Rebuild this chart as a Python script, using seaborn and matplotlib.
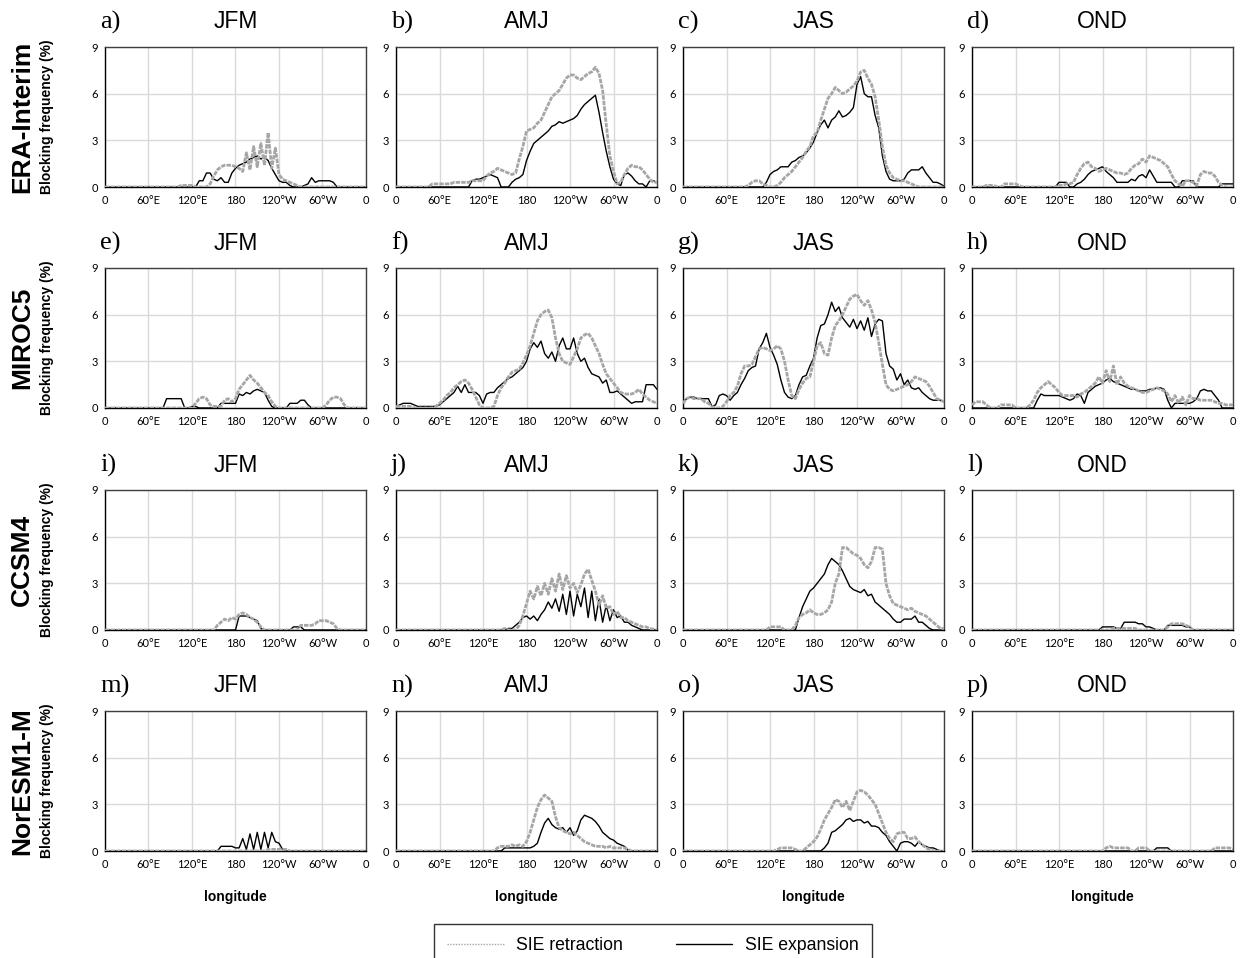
import numpy as np
import pandas as pd
import matplotlib
matplotlib.use("Agg")
import matplotlib.pyplot as plt
import seaborn as sns
from matplotlib.lines import Line2D

# ---------------- data (blocking frequency, %, every 5 deg longitude) ----------------
LON = list(range(0, 361, 5))
MODELS = ["ERA-Interim", "MIROC5", "CCSM4", "NorESM1-M"]
SEASONS = ["JFM", "AMJ", "JAS", "OND"]
LETTERS = list("abcdefghijklmnop")
XTICKS = [0, 60, 120, 180, 240, 300, 360]
XTICK_LABELS = ["0", "60°E", "120°E", "180", "120°W", "60°W", "0"]
YTICKS = [0, 3, 6, 9]

ERA_JFM_RET = [
    0, 0, 0, 0, 0, 0, 0, 0, 0, 0, 0, 0,
    0, 0, 0, 0, 0, 0, 0, 0, 0, 0.1, 0.1, 0.1,
    0.1, 0, 0, 0, 0, 0.2, 0.7, 1.1, 1.3, 1.4, 1.4, 1.4,
    1.3, 1.2, 1.0, 2.2, 1.1, 2.6, 1.3, 2.8, 1.4, 3.5, 1.2, 2.5,
    0.8, 0.5, 0.4, 0.3, 0.2, 0.1, 0, 0, 0, 0, 0, 0,
    0, 0, 0, 0, 0, 0, 0, 0, 0, 0, 0, 0,
    0]
ERA_JFM_EXP = [
    0, 0, 0, 0, 0, 0, 0, 0, 0, 0, 0, 0,
    0, 0, 0, 0, 0, 0, 0, 0, 0, 0, 0, 0,
    0, 0, 0.4, 0.4, 0.9, 0.9, 0.5, 0.4, 0.6, 0.3, 0.3, 0.9,
    1.2, 1.4, 1.5, 1.6, 1.8, 1.9, 2.0, 1.8, 1.9, 1.7, 1.2, 0.8,
    0.4, 0.3, 0.3, 0.1, 0, 0, 0, 0.1, 0.2, 0.6, 0.3, 0.4,
    0.4, 0.4, 0.4, 0.3, 0, 0, 0, 0, 0, 0, 0, 0,
    0]
ERA_AMJ_RET = [
    0, 0, 0, 0, 0, 0, 0, 0, 0, 0, 0.2, 0.2,
    0.2, 0.2, 0.2, 0.2, 0.3, 0.3, 0.3, 0.3, 0.3, 0.4, 0.4, 0.4,
    0.4, 0.7, 0.9, 1.0, 1.2, 1.1, 1.0, 0.9, 0.8, 0.9, 1.8, 2.6,
    3.6, 3.7, 3.8, 4.1, 4.3, 4.8, 5.3, 5.8, 6.0, 6.2, 6.6, 7.0,
    7.2, 7.2, 7.0, 6.9, 7.1, 7.3, 7.4, 7.7, 7.3, 6.2, 4.0, 2.0,
    1.0, 0.2, 0.3, 0.8, 1.2, 1.4, 1.3, 1.3, 1.1, 0.8, 0.5, 0.3,
    0.3]
ERA_AMJ_EXP = [
    0, 0, 0, 0, 0, 0, 0, 0, 0, 0, 0, 0,
    0, 0, 0, 0, 0, 0, 0, 0, 0, 0.4, 0.5, 0.5,
    0.6, 0.7, 0.8, 0.7, 0.6, 0, 0, 0, 0.3, 0.5, 0.6, 0.8,
    1.7, 2.3, 2.8, 3.0, 3.2, 3.4, 3.6, 3.9, 4.0, 4.2, 4.1, 4.2,
    4.3, 4.4, 4.6, 5.0, 5.3, 5.5, 5.7, 5.9, 4.8, 3.5, 2.3, 1.3,
    0.5, 0.2, 0.1, 0.8, 0.9, 0.7, 0.4, 0.2, 0.2, 0, 0.4, 0.4,
    0.3]
ERA_JAS_RET = [
    0, 0, 0, 0, 0, 0, 0, 0, 0, 0, 0, 0,
    0, 0, 0, 0, 0, 0, 0.1, 0.3, 0.4, 0.4, 0.2, 0.1,
    0, 0, 0.1, 0.3, 0.6, 0.8, 1.0, 1.3, 1.6, 1.9, 2.3, 2.6,
    3.3, 3.5, 4.3, 5.0, 5.7, 6.0, 6.4, 6.2, 6.0, 6.1, 6.3, 6.5,
    6.8, 7.4, 7.5, 7.0, 6.6, 5.8, 4.3, 2.6, 1.4, 0.9, 0.6, 0.5,
    0.4, 0.4, 0.3, 0.2, 0.1, 0, 0, 0, 0, 0, 0, 0,
    0]
ERA_JAS_EXP = [
    0, 0, 0, 0, 0, 0, 0, 0, 0, 0, 0, 0,
    0, 0, 0, 0, 0, 0, 0, 0, 0, 0, 0, 0.3,
    0.8, 1.0, 1.1, 1.3, 1.3, 1.3, 1.6, 1.7, 1.9, 2.0, 2.2, 2.5,
    2.9, 3.5, 4.0, 4.3, 3.8, 4.3, 4.5, 4.9, 4.5, 4.6, 4.8, 5.1,
    6.6, 7.1, 6.0, 5.8, 5.8, 4.6, 3.8, 2.0, 1.0, 0.5, 0.4, 0.4,
    0.4, 0.5, 0.9, 1.1, 1.1, 1.1, 1.3, 0.9, 0.6, 0.3, 0.3, 0.2,
    0.05]
ERA_OND_RET = [
    0, 0, 0, 0, 0.1, 0.1, 0.1, 0, 0, 0.2, 0.2, 0.2,
    0.2, 0.1, 0, 0, 0, 0, 0, 0, 0, 0, 0, 0,
    0.1, 0.1, 0.2, 0.2, 0.3, 0.8, 1.2, 1.5, 1.6, 1.3, 1.2, 1.0,
    1.1, 1.2, 1.1, 1.0, 0.9, 0.9, 0.8, 0.9, 1.2, 1.4, 1.5, 1.8,
    1.6, 2.0, 1.9, 1.8, 1.7, 1.5, 1.3, 0.8, 0.4, 0.2, 0.05, 0.4,
    0.4, 0.3, 0.1, 0.8, 1.0, 0.9, 0.9, 0.7, 0.3, 0.1, 0, 0,
    0]
ERA_OND_EXP = [
    0, 0, 0, 0, 0, 0, 0, 0, 0, 0, 0, 0,
    0, 0, 0, 0, 0, 0, 0, 0, 0, 0, 0, 0,
    0.3, 0.3, 0.3, 0, 0, 0.2, 0.3, 0.5, 0.8, 1.0, 1.1, 1.2,
    1.3, 1.0, 0.8, 0.6, 0.3, 0.3, 0.3, 0.3, 0.5, 0.4, 0.7, 0.8,
    0.6, 1.1, 0.7, 0.3, 0.3, 0.3, 0.3, 0.3, 0, 0, 0.4, 0.4,
    0.4, 0.4, 0, 0, 0, 0, 0, 0, 0, 0.2, 0.2, 0.2,
    0.2]

MIROC_JFM_RET = [
    0, 0, 0, 0, 0, 0, 0, 0, 0, 0, 0, 0,
    0, 0, 0, 0, 0, 0, 0, 0, 0, 0, 0, 0,
    0, 0.3, 0.6, 0.7, 0.6, 0.2, 0.1, 0.1, 0.1, 0.5, 0.6, 0.4,
    0.6, 1.2, 1.5, 1.8, 2.1, 1.8, 1.6, 1.3, 1.0, 0.8, 0.4, 0.1,
    0, 0, 0, 0, 0, 0, 0, 0, 0, 0, 0, 0,
    0, 0.2, 0.5, 0.7, 0.7, 0.6, 0.2, 0, 0, 0, 0, 0,
    0]
MIROC_JFM_EXP = [
    0, 0, 0, 0, 0, 0, 0, 0, 0, 0, 0, 0,
    0, 0, 0, 0, 0, 0.6, 0.6, 0.6, 0.6, 0.6, 0, 0,
    0.1, 0.1, 0, 0, 0, 0, 0, 0, 0.3, 0.3, 0.3, 0.3,
    0.3, 0.9, 0.8, 1.0, 0.9, 1.1, 1.2, 1.1, 1.0, 0.5, 0.1, 0,
    0, 0, 0, 0.3, 0.3, 0.3, 0.5, 0.5, 0.2, 0, 0, 0,
    0, 0, 0, 0, 0, 0, 0, 0, 0, 0, 0, 0,
    0]
MIROC_AMJ_RET = [
    0.1, 0.1, 0.1, 0.1, 0.1, 0, 0, 0, 0, 0, 0, 0.1,
    0.3, 0.5, 0.8, 1.0, 1.3, 1.5, 1.7, 1.8, 1.6, 1.2, 0.7, 0.2,
    0, 0, 0, 0.1, 0.8, 1.3, 1.6, 2.0, 2.3, 2.4, 2.5, 2.9,
    3.4, 4.0, 4.8, 5.6, 6.0, 6.2, 6.3, 5.8, 4.5, 3.5, 3.0, 2.9,
    2.8, 3.3, 3.8, 4.5, 4.7, 4.8, 4.5, 4.0, 3.5, 2.8, 2.2, 1.9,
    1.6, 1.3, 1.0, 0.9, 0.9, 0.9, 1.0, 1.2, 0.9, 0.7, 0.5, 0.4,
    0.3]
MIROC_AMJ_EXP = [
    0.1, 0.2, 0.3, 0.3, 0.3, 0.2, 0.1, 0.1, 0.1, 0.1, 0.1, 0.1,
    0.2, 0.4, 0.6, 0.8, 1.0, 1.4, 1.0, 1.5, 1.0, 1.0, 1.0, 0.8,
    0.3, 0.9, 1.0, 1.0, 1.3, 1.5, 1.7, 1.9, 2.0, 2.2, 2.4, 2.6,
    3.0, 3.8, 4.2, 3.9, 4.3, 3.5, 3.2, 3.6, 3.0, 4.0, 4.5, 3.8,
    3.8, 4.5, 3.5, 3.0, 3.2, 2.6, 2.2, 2.1, 2.0, 1.6, 1.8, 1.0,
    1.0, 1.1, 0.9, 0.7, 0.5, 0.3, 0.4, 0.4, 0.4, 1.5, 1.5, 1.5,
    1.2]
MIROC_JAS_RET = [
    0.3, 0.6, 0.7, 0.6, 0.6, 0.6, 0.4, 0.3, 0.1, 0, 0, 0.1,
    0.4, 0.8, 1.0, 1.4, 2.2, 2.7, 2.7, 2.8, 3.3, 3.8, 3.9, 3.8,
    3.7, 3.8, 4.0, 3.8, 3.0, 1.8, 0.8, 0.6, 1.2, 1.6, 1.9, 2.0,
    3.0, 4.0, 4.2, 3.5, 3.4, 4.5, 5.3, 5.6, 6.0, 6.5, 7.0, 7.2,
    7.3, 6.9, 6.6, 6.9, 6.3, 5.5, 4.2, 2.8, 1.5, 1.2, 1.1, 1.2,
    1.3, 1.4, 1.5, 1.7, 2.0, 1.9, 1.8, 1.7, 1.4, 1.0, 0.6, 0.5,
    0.4]
MIROC_JAS_EXP = [
    0.4, 0.6, 0.7, 0.7, 0.6, 0.6, 0.6, 0.6, 0.1, 0.2, 0.8, 0.9,
    0.8, 0.5, 0.8, 1.0, 1.5, 1.9, 2.4, 2.6, 2.7, 3.8, 4.2, 4.8,
    3.9, 3.4, 2.8, 1.8, 1.0, 0.7, 0.6, 0.8, 1.5, 2.0, 2.1, 2.7,
    3.2, 4.5, 5.3, 5.4, 6.0, 6.8, 6.2, 6.5, 5.8, 5.5, 5.2, 5.7,
    5.1, 5.6, 5.0, 5.8, 4.6, 5.4, 5.7, 5.6, 3.5, 2.7, 2.5, 1.8,
    2.2, 1.5, 1.8, 1.3, 1.2, 1.3, 1.0, 0.8, 0.6, 0.5, 0.5, 0.5,
    0.4]
MIROC_OND_RET = [
    0.2, 0.4, 0.4, 0.4, 0.2, 0, 0, 0, 0.2, 0.2, 0.2, 0.2,
    0, 0, 0, 0, 0.2, 0.5, 1.0, 1.3, 1.5, 1.7, 1.5, 1.3,
    1.0, 0.8, 0.8, 0.8, 0.8, 0.7, 0.9, 1.0, 1.2, 1.4, 1.6, 2.0,
    1.6, 2.4, 1.7, 2.7, 1.5, 2.0, 1.6, 1.4, 1.3, 1.2, 1.1, 1.0,
    1.0, 1.1, 1.2, 1.3, 1.2, 1.1, 0.9, 0.4, 0.8, 0.3, 0.7, 0.2,
    0.8, 0.6, 0.6, 0.5, 0.5, 0.5, 0.5, 0.4, 0.3, 0.3, 0.2, 0.2,
    0.2]
MIROC_OND_EXP = [
    0, 0, 0, 0, 0, 0, 0, 0, 0, 0, 0, 0,
    0, 0, 0, 0, 0, 0, 0.5, 0.9, 0.8, 0.8, 0.8, 0.8,
    0.8, 0.7, 0.6, 0.5, 0.6, 0.9, 0.8, 0.3, 1.0, 1.2, 1.4, 1.5,
    1.6, 1.8, 1.9, 1.7, 1.6, 1.5, 1.4, 1.3, 1.2, 1.2, 1.1, 1.1,
    1.1, 1.2, 1.2, 1.3, 1.3, 1.2, 0.5, 0, 0.3, 0.3, 0.3, 0.3,
    0.3, 0.4, 0.6, 1.1, 1.2, 1.1, 1.1, 0.8, 0.5, 0, 0, 0,
    0]

CCSM_JFM_RET = [
    0, 0, 0, 0, 0, 0, 0, 0, 0, 0, 0, 0,
    0, 0, 0, 0, 0, 0, 0, 0, 0, 0, 0, 0,
    0, 0, 0, 0, 0, 0, 0, 0.3, 0.5, 0.7, 0.6, 0.8,
    0.7, 1.0, 1.1, 1.0, 0.8, 0.7, 0.5, 0.2, 0, 0, 0, 0,
    0, 0, 0, 0, 0, 0, 0.3, 0.3, 0.3, 0.3, 0.4, 0.6,
    0.6, 0.6, 0.5, 0.4, 0.1, 0, 0, 0, 0, 0, 0, 0,
    0]
CCSM_JFM_EXP = [
    0, 0, 0, 0, 0, 0, 0, 0, 0, 0, 0, 0,
    0, 0, 0, 0, 0, 0, 0, 0, 0, 0, 0, 0,
    0, 0, 0, 0, 0, 0, 0, 0, 0, 0, 0, 0,
    0, 0.9, 0.9, 0.9, 0.8, 0.7, 0.6, 0.1, 0, 0, 0, 0,
    0, 0, 0, 0, 0.2, 0.2, 0.2, 0, 0, 0, 0, 0,
    0, 0, 0, 0, 0, 0, 0, 0, 0, 0, 0, 0,
    0]
CCSM_AMJ_RET = [
    0, 0, 0, 0, 0, 0, 0, 0, 0, 0, 0, 0,
    0, 0, 0, 0, 0, 0, 0, 0, 0, 0, 0, 0,
    0, 0, 0, 0, 0, 0, 0.1, 0, 0, 0, 0.3, 0.9,
    1.7, 2.5, 2.0, 2.8, 2.2, 3.0, 2.3, 3.3, 2.5, 3.6, 2.6, 3.5,
    2.7, 3.0, 2.4, 2.9, 3.6, 3.9, 3.2, 2.5, 1.6, 2.2, 1.4, 1.5,
    1.0, 1.2, 0.8, 0.8, 0.6, 0.5, 0.4, 0.3, 0.2, 0.2, 0.1, 0.05,
    0]
CCSM_AMJ_EXP = [
    0, 0, 0, 0, 0, 0, 0, 0, 0, 0, 0, 0,
    0, 0, 0, 0, 0, 0, 0, 0, 0, 0, 0, 0,
    0, 0, 0, 0, 0, 0, 0, 0.1, 0.1, 0.3, 0.5, 0.8,
    0.9, 0.7, 0.9, 0.6, 1.0, 1.3, 1.8, 1.4, 2.0, 1.2, 2.3, 1.0,
    2.5, 0.9, 2.3, 1.5, 2.7, 0.8, 2.5, 0.6, 2.0, 0.5, 1.6, 0.6,
    1.3, 0.8, 0.9, 0.5, 0.5, 0.3, 0.2, 0.1, 0, 0, 0, 0,
    0]
CCSM_JAS_RET = [
    0, 0, 0, 0, 0, 0, 0, 0, 0, 0, 0, 0,
    0, 0, 0, 0, 0, 0, 0, 0, 0, 0, 0, 0,
    0.2, 0.2, 0.2, 0.2, 0, 0, 0, 0.3, 0.8, 1.0, 1.1, 1.3,
    1.1, 1.0, 1.0, 1.1, 1.3, 1.8, 3.0, 3.6, 5.3, 5.3, 5.1, 4.9,
    4.8, 4.6, 4.2, 4.0, 4.4, 5.3, 5.3, 5.2, 3.0, 2.2, 1.7, 1.6,
    1.5, 1.4, 1.3, 1.4, 1.2, 1.1, 1.0, 0.9, 0.7, 0.5, 0.3, 0.1,
    0.1]
CCSM_JAS_EXP = [
    0, 0, 0, 0, 0, 0, 0, 0, 0, 0, 0, 0,
    0, 0, 0, 0, 0, 0, 0, 0, 0, 0, 0, 0,
    0, 0, 0, 0, 0, 0, 0, 0, 0.8, 1.5, 2.0, 2.5,
    2.7, 3.0, 3.3, 3.6, 4.2, 4.6, 4.4, 4.2, 3.8, 3.3, 2.8, 2.6,
    2.5, 2.4, 2.6, 2.2, 2.3, 1.8, 1.6, 1.4, 1.2, 1.0, 0.7, 0.5,
    0.5, 0.7, 0.7, 0.7, 0.9, 0.5, 0.5, 0.3, 0.1, 0, 0, 0,
    0]
CCSM_OND_RET = [
    0, 0, 0, 0, 0, 0, 0, 0, 0, 0, 0, 0,
    0, 0, 0, 0, 0, 0, 0, 0, 0, 0, 0, 0,
    0, 0, 0, 0, 0, 0, 0, 0, 0, 0, 0, 0,
    0, 0, 0, 0.1, 0.1, 0.1, 0.1, 0.1, 0.1, 0.1, 0, 0,
    0, 0, 0, 0, 0, 0, 0.2, 0.4, 0.4, 0.4, 0.4, 0.3,
    0.2, 0, 0, 0, 0, 0, 0, 0, 0, 0, 0, 0,
    0]
CCSM_OND_EXP = [
    0, 0, 0, 0, 0, 0, 0, 0, 0, 0, 0, 0,
    0, 0, 0, 0, 0, 0, 0, 0, 0, 0, 0, 0,
    0, 0, 0, 0, 0, 0, 0, 0, 0, 0, 0, 0,
    0.2, 0.2, 0.2, 0.2, 0.1, 0.1, 0.5, 0.5, 0.5, 0.5, 0.4, 0.4,
    0.2, 0.2, 0.1, 0, 0, 0, 0.3, 0.3, 0.3, 0.3, 0.3, 0.2,
    0.2, 0, 0, 0, 0, 0, 0, 0, 0, 0, 0, 0,
    0]

NOR_JFM_RET = [
    0, 0, 0, 0, 0, 0, 0, 0, 0, 0, 0, 0,
    0, 0, 0, 0, 0, 0, 0, 0, 0, 0, 0, 0,
    0, 0, 0, 0, 0, 0, 0, 0, 0, 0, 0, 0,
    0, 0, 0, 0, 0, 0, 0, 0, 0, 0.1, 0.1, 0.1,
    0.1, 0.1, 0.1, 0, 0, 0, 0, 0, 0, 0, 0, 0,
    0, 0, 0, 0, 0, 0, 0, 0, 0, 0, 0, 0,
    0]
NOR_JFM_EXP = [
    0, 0, 0, 0, 0, 0, 0, 0, 0, 0, 0, 0,
    0, 0, 0, 0, 0, 0, 0, 0, 0, 0, 0, 0,
    0, 0, 0, 0, 0, 0, 0, 0, 0.3, 0.3, 0.3, 0.3,
    0.2, 0.2, 0.8, 0.1, 1.1, 0.1, 1.2, 0.1, 1.2, 0.2, 1.2, 0.6,
    0.5, 0.1, 0, 0, 0, 0, 0, 0, 0, 0, 0, 0,
    0, 0, 0, 0, 0, 0, 0, 0, 0, 0, 0, 0,
    0]
NOR_AMJ_RET = [
    0, 0, 0, 0, 0, 0, 0, 0, 0, 0, 0, 0,
    0, 0, 0, 0, 0, 0, 0, 0, 0, 0, 0, 0,
    0, 0, 0, 0, 0.2, 0.3, 0.3, 0.3, 0.4, 0.3, 0.4, 0.3,
    0.6, 1.2, 2.0, 2.8, 3.3, 3.6, 3.4, 3.2, 2.2, 1.5, 1.3, 1.2,
    1.1, 1.2, 1.0, 0.8, 0.6, 0.5, 0.4, 0.3, 0.3, 0.3, 0.2, 0.3,
    0.2, 0.2, 0.2, 0.2, 0.1, 0, 0, 0, 0, 0, 0, 0,
    0]
NOR_AMJ_EXP = [
    0, 0, 0, 0, 0, 0, 0, 0, 0, 0, 0, 0,
    0, 0, 0, 0, 0, 0, 0, 0, 0, 0, 0, 0,
    0, 0, 0, 0, 0, 0, 0.2, 0.2, 0.2, 0.2, 0.2, 0.2,
    0.2, 0.2, 0.3, 0.5, 1.2, 1.8, 2.1, 1.7, 1.5, 1.4, 1.5, 1.2,
    1.5, 1.0, 1.3, 2.0, 2.3, 2.2, 2.1, 1.9, 1.6, 1.2, 1.0, 0.8,
    0.7, 0.5, 0.4, 0.3, 0.05, 0, 0, 0, 0, 0, 0, 0,
    0]
NOR_JAS_RET = [
    0, 0, 0, 0, 0, 0, 0, 0, 0, 0, 0, 0,
    0, 0, 0, 0, 0, 0, 0, 0, 0, 0, 0, 0,
    0, 0, 0.1, 0.2, 0.2, 0.2, 0.2, 0.1, 0, 0, 0.2, 0.4,
    0.6, 0.9, 1.4, 2.0, 2.4, 2.8, 3.3, 3.2, 2.8, 3.2, 2.6, 3.2,
    3.8, 3.9, 3.8, 3.6, 3.3, 3.0, 2.4, 1.8, 1.2, 0.8, 0.6, 1.1,
    1.2, 1.2, 0.8, 0.8, 0.9, 0.6, 0.4, 0.2, 0.1, 0, 0, 0,
    0]
NOR_JAS_EXP = [
    0, 0, 0, 0, 0, 0, 0, 0, 0, 0, 0, 0,
    0, 0, 0, 0, 0, 0, 0, 0, 0, 0, 0, 0,
    0, 0, 0, 0, 0, 0, 0, 0, 0, 0, 0, 0,
    0, 0, 0, 0.2, 0.5, 1.2, 1.3, 1.5, 1.7, 2.0, 2.1, 1.9,
    2.0, 2.0, 1.8, 1.9, 1.6, 1.6, 1.5, 1.2, 1.0, 0.6, 0.3, 0,
    0.5, 0.6, 0.6, 0.5, 0.3, 0.6, 0.4, 0.3, 0.2, 0.2, 0.1, 0,
    0]
NOR_OND_RET = [
    0, 0, 0, 0, 0, 0, 0, 0, 0, 0, 0, 0,
    0, 0, 0, 0, 0, 0, 0, 0, 0, 0, 0, 0,
    0, 0, 0, 0, 0, 0, 0, 0, 0, 0, 0, 0,
    0, 0.2, 0.3, 0.2, 0.2, 0.2, 0.2, 0.2, 0, 0, 0.2, 0.2,
    0.2, 0, 0, 0, 0, 0, 0, 0, 0, 0, 0, 0,
    0, 0, 0, 0, 0, 0, 0, 0.2, 0.2, 0.2, 0.2, 0.2,
    0.1]
NOR_OND_EXP = [
    0, 0, 0, 0, 0, 0, 0, 0, 0, 0, 0, 0,
    0, 0, 0, 0, 0, 0, 0, 0, 0, 0, 0, 0,
    0, 0, 0, 0, 0, 0, 0, 0, 0, 0, 0, 0,
    0, 0, 0, 0, 0, 0, 0, 0, 0, 0, 0, 0,
    0, 0, 0, 0.2, 0.2, 0.2, 0.2, 0, 0, 0, 0, 0,
    0, 0, 0, 0, 0, 0, 0, 0, 0, 0, 0, 0,
    0]

RETRACTION = [
    [ERA_JFM_RET, ERA_AMJ_RET, ERA_JAS_RET, ERA_OND_RET],
    [MIROC_JFM_RET, MIROC_AMJ_RET, MIROC_JAS_RET, MIROC_OND_RET],
    [CCSM_JFM_RET, CCSM_AMJ_RET, CCSM_JAS_RET, CCSM_OND_RET],
    [NOR_JFM_RET, NOR_AMJ_RET, NOR_JAS_RET, NOR_OND_RET],
]
EXPANSION = [
    [ERA_JFM_EXP, ERA_AMJ_EXP, ERA_JAS_EXP, ERA_OND_EXP],
    [MIROC_JFM_EXP, MIROC_AMJ_EXP, MIROC_JAS_EXP, MIROC_OND_EXP],
    [CCSM_JFM_EXP, CCSM_AMJ_EXP, CCSM_JAS_EXP, CCSM_OND_EXP],
    [NOR_JFM_EXP, NOR_AMJ_EXP, NOR_JAS_EXP, NOR_OND_EXP],
]

# ---------------- styling ----------------
sns.set_style("white")
plt.rcParams["font.family"] = ["Liberation Sans", "DejaVu Sans"]
plt.rcParams["text.color"] = "black"
plt.rcParams["axes.labelcolor"] = "black"
plt.rcParams["xtick.color"] = "black"
plt.rcParams["ytick.color"] = "black"

W, H = 1245, 958
fig = plt.figure(figsize=(W / 100, H / 100), dpi=100)

COL_LEFT = [105, 396, 683, 972]
COL_W = 261
ROW_TOP = [47, 268, 490, 711]
ROW_H = 140

GRAY = "#a6a6a6"
GRID = "#d9d9d9"
TICKFONT = ["Lato", "DejaVu Sans"]

for r in range(4):
    for c in range(4):
        left = COL_LEFT[c] / W
        bottom = 1 - (ROW_TOP[r] + ROW_H) / H
        ax = fig.add_axes([left, bottom, COL_W / W, ROW_H / H])
        df = pd.DataFrame({"lon": LON,
                           "retraction": RETRACTION[r][c],
                           "expansion": EXPANSION[r][c]})
        sns.lineplot(data=df, x="lon", y="expansion", ax=ax, color="black",
                     lw=1.0, zorder=3, estimator=None, sort=False)
        sns.lineplot(data=df, x="lon", y="retraction", ax=ax, color=GRAY,
                     lw=2.0, dashes=False, linestyle=(0, (1.6, 0.4)),
                     zorder=4, estimator=None, sort=False)
        ax.set_xlim(0, 360)
        ax.set_ylim(0, 9)
        ax.set_xticks(XTICKS)
        ax.set_yticks(YTICKS)
        ax.set_xticklabels(XTICK_LABELS, fontsize=8, family=TICKFONT)
        ax.set_yticklabels([str(v) for v in YTICKS], fontsize=8, family=TICKFONT)
        ax.grid(True, color=GRID, lw=1.0, zorder=0)
        ax.set_axisbelow(True)
        ax.tick_params(axis="x", direction="inout", length=5, width=0.8, pad=3.5, colors="black")
        ax.tick_params(axis="y", direction="out", length=3, width=0.8, pad=2, colors="black")
        for s in ["left", "bottom"]:
            ax.spines[s].set_color("black")
            ax.spines[s].set_linewidth(1.0)
        for s in ["top", "right"]:
            ax.spines[s].set_color("#404040")
            ax.spines[s].set_linewidth(1.0)
        ax.set_xlabel("")
        ax.set_ylabel("")
        # panel letter and season
        ytitle = 1 - (ROW_TOP[r] - 25) / H
        fig.text(left - 5 / W, ytitle, LETTERS[r * 4 + c] + ")",
                 family=["Liberation Serif", "DejaVu Serif"], fontsize=19,
                 ha="left", va="center", color="black")
        fig.text(left + COL_W / 2 / W, ytitle, SEASONS[c], fontsize=16.5,
                 ha="center", va="center", color="black")
        if r == 3:
            fig.text(left + COL_W / 2 / W, 1 - 897 / H, "longitude",
                     fontsize=10, fontweight="bold", ha="center", va="center",
                     color="black")
    ymid = 1 - (ROW_TOP[r] + ROW_H / 2) / H
    fig.text(22 / W, ymid, MODELS[r], rotation=90, fontsize=19,
             fontweight="bold", ha="center", va="center", color="black")
    fig.text(47 / W, ymid, "Blocking frequency (%)", rotation=90, fontsize=10,
             fontweight="bold", ha="center", va="center", color="black")

handles = [Line2D([], [], color=GRAY, lw=1.0, linestyle=(0, (1, 1))),
           Line2D([], [], color="black", lw=1.0)]
leg = fig.legend(handles, ["SIE retraction", "SIE expansion"], ncol=2,
                 loc="upper center", bbox_to_anchor=(653 / W, 1 - 924 / H),
                 frameon=True, fancybox=False, fontsize=12.7,
                 handlelength=3.2, columnspacing=3.0, handletextpad=0.7,
                 borderpad=0.75, borderaxespad=0)
leg.get_frame().set_edgecolor("black")
leg.get_frame().set_linewidth(1.0)
for t in leg.get_texts():
    t.set_color("black")

fig.savefig("out.png", dpi=100)
